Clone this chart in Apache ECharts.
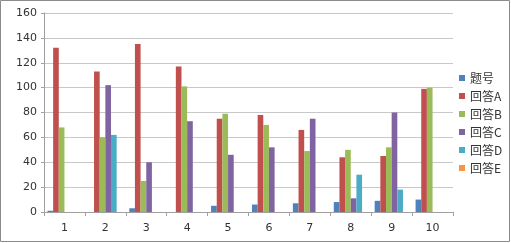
<!DOCTYPE html>
<html><head><meta charset="utf-8">
<script src="https://cdn.jsdelivr.net/npm/echarts@6/dist/echarts.min.js"></script>
<style>html,body{margin:0;padding:0;background:#fff}#c{width:511px;height:243px}</style>
</head><body><div id="c"></div>
<script>
const categories = ['1','2','3','4','5','6','7','8','9','10'];
const seriesNames = ['题号','回答A','回答B','回答C','回答D','回答E'];
const tihao = [1, null, 3, null, 5, 6, 7, 8, 9, 10];
const answerA = [132, 113, 135, 117, 75, 78, 66, 44, 45, 99];
const answerB = [68, 60, 25, 101, 79, 70, 49, 50, 52, 100];
const answerC = [null, 102, 40, 73, 46, 52, 75, 11, 80, null];
const answerD = [null, 62, null, null, null, null, null, 30, 18, null];
const answerE = [null, null, null, null, null, null, null, null, null, null];
const yTicks = [0, 20, 40, 60, 80, 100, 120, 140, 160];

const colors = ['#4F81BD','#C0504D','#9BBB59','#8064A2','#4BACC6','#F79646'];
const dataList = [tihao, answerA, answerB, answerC, answerD, answerE];
const chart = echarts.init(document.getElementById('c'), null, {renderer:'canvas'});
chart.setOption({
  animation: false,
  color: colors,
  textStyle: {fontFamily: '"Noto Sans CJK SC", "DejaVu Sans", sans-serif'},
  graphic: [{type:'rect', shape:{x:0.5,y:0.5,width:509,height:241}, style:{fill:'none', stroke:'#8c8c8c', lineWidth:1}, silent:true}],
  grid: {left: 44, right: 58, top: 13, bottom: 31},
  legend: {
    orient: 'vertical', left: 454, top: 67,
    itemWidth: 6, itemHeight: 6, itemGap: 6,
    icon: 'rect',
    textStyle: {fontSize: 12, color: '#333'},
    data: seriesNames
  },
  xAxis: {
    type: 'category', data: categories,
    axisLine: {lineStyle: {color: '#a0a0a0'}},
    axisTick: {show: true, length: 4, lineStyle: {color: '#a0a0a0'}},
    axisLabel: {fontSize: 11, color: '#333', margin: 11, fontFamily: '"DejaVu Sans", sans-serif'}
  },
  yAxis: {
    type: 'value', min: yTicks[0], max: yTicks[yTicks.length-1], interval: 20,
    axisLine: {show: true, lineStyle: {color: '#a0a0a0'}},
    axisTick: {show: true, length: 3, lineStyle: {color: '#a0a0a0'}},
    splitLine: {lineStyle: {color: '#c8c8c8'}},
    axisLabel: {fontSize: 11, color: '#333', margin: 7, fontFamily: '"DejaVu Sans", sans-serif'}
  },
  series: seriesNames.map((n, i) => ({
    name: n, type: 'bar', data: dataList[i],
    barGap: '0%', barCategoryGap: '17%',
    itemStyle: {color: colors[i]}
  }))
});
</script></body></html>
